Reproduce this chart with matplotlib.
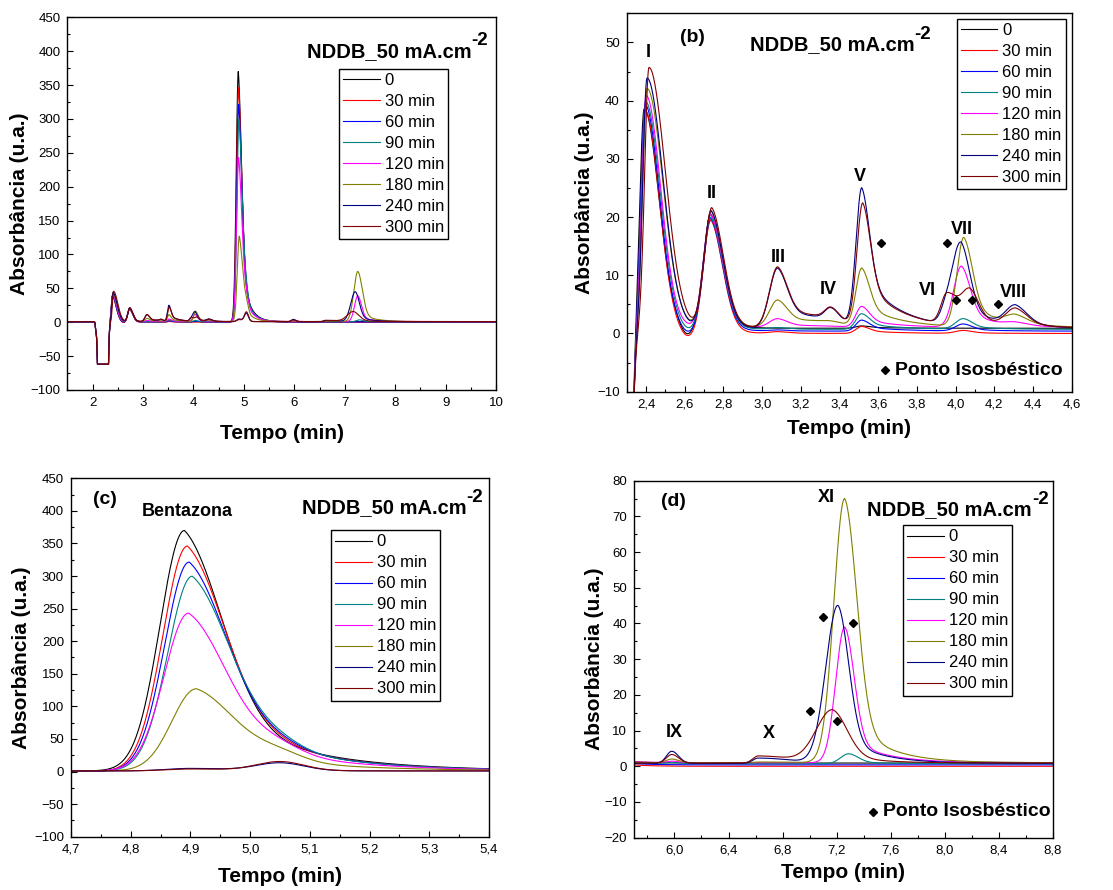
import numpy as np
import matplotlib.pyplot as plt
from matplotlib.ticker import MultipleLocator, FuncFormatter

plt.rcParams['font.family'] = ['Liberation Sans', 'DejaVu Sans']

# series (electrolysis time)
labels = ["0", "30 min", "60 min", "90 min", "120 min", "180 min", "240 min", "300 min"]
colors = ["black", "red", "blue", "#008080", "magenta", "#808000", "#000080", "#800000"]
baseline = [0.9, 0.0, 0.4, 0.7, 1.0, 1.0, 0.8, 0.9]

# peak table, values per series
# solvent front (negative, detector clips at -62)
rt_dip, h_dip, w_dip = 2.205, -3000.0, 0.04
rt_wig, h_wig, w_wig = 2.065, -8.0, 0.008
clip_low = -62.0
# trough after peak I
rt_tr = 2.61
h_tr = [-1.5, -0.9, -0.6, -0.4, 0, 0, 0, 0]
# I
rt_I = [2.39, 2.395, 2.395, 2.398, 2.40, 2.405, 2.405, 2.415]
h_I = [37.7, 38.3, 38.9, 39.1, 39.9, 41.1, 43.1, 44.8]
sr_I = [0.075, 0.073, 0.074, 0.075, 0.075, 0.082, 0.082, 0.084]
# II
rt_II = [2.735, 2.735, 2.735, 2.735, 2.735, 2.737, 2.737, 2.74]
h_II = [19.6, 19.5, 19.4, 19.3, 19.5, 20.0, 20.3, 20.7]
# III
h_III = [0, 0.3, 0.2, 0.3, 1.5, 4.6, 10.2, 10.3]
# broad hump under III-IV
h_hump = [0, 0, 0, 0, 0.2, 0.8, 1.2, 1.3]
# IV
h_IV = [0, 0, 0, 0, 0, 0.2, 2.0, 1.9]
# V
rt_V = [3.515, 3.515, 3.515, 3.515, 3.515, 3.515, 3.515, 3.52]
h_V = [0.4, 1.2, 1.9, 2.7, 3.6, 10.0, 23.8, 21.1]
# VI
h_VI = [0, 0, 0, 0, 0, 0, 2.5, 5.2]
# VII
rt_VII = [4.04, 4.04, 4.04, 4.04, 4.03, 4.042, 4.03, 4.075]
h_VII = [0, 0.5, 1.2, 1.8, 10.5, 15.3, 13.5, 6.2]
sl_VII = [0.04, 0.04, 0.04, 0.04, 0.04, 0.035, 0.045, 0.045]
# VIII
h_VIII = [0, 0, 0, 0, 0.5, 1.5, 3.4, 3.0]
# Bentazona
rt_BZ = [4.89, 4.895, 4.898, 4.903, 4.897, 4.91, 4.90, 4.90]
h_BZ = [369, 346, 321, 299, 242, 126, 4, 3]
# peak at 5.05
h_P5 = [0, 4, 8, 11, 12, 12, 12, 14]
# IX
h_IX = [0, 0, 0, 0.3, 0.4, 1.0, 3.4, 2.4]
# X
h_X = [0, 0, 0, 0, 0, 0.2, 1.5, 2.0]
# XI
rt_XI = [7.2, 7.2, 7.2, 7.29, 7.26, 7.26, 7.21, 7.17]
h_XI = [0, 0, 0, 2.8, 38, 74, 44.2, 14.8]
sl_XI = [0.08, 0.08, 0.08, 0.06, 0.066, 0.08, 0.09, 0.12]
sr_XI = [0.08, 0.08, 0.08, 0.07, 0.07, 0.09, 0.08, 0.11]

# (rt, height, sigma left, sigma right, tail fraction, tail length)
peak_table = [
    (rt_dip, h_dip, w_dip, w_dip, 0, 1),
    (rt_wig, h_wig, w_wig, w_wig, 0, 1),
    (rt_tr, h_tr, 0.035, 0.035, 0, 1),
    (rt_I, h_I, 0.022, sr_I, 0, 1),
    (rt_II, h_II, 0.038, 0.062, 0.15, 0.07),
    (3.08, h_III, 0.042, 0.05, 0.35, 0.15),
    (3.30, h_hump, 0.12, 0.12, 0, 1),
    (3.355, h_IV, 0.03, 0.04, 0, 1),
    (rt_V, h_V, 0.03, 0.04, 0.4, 0.18),
    (3.955, h_VI, 0.03, 0.05, 0, 1),
    (rt_VII, h_VII, sl_VII, 0.045, 0.3, 0.15),
    (4.31, h_VIII, 0.05, 0.06, 0.3, 0.12),
    (rt_BZ, h_BZ, 0.041, 0.065, 0.35, 0.14),
    (5.05, h_P5, 0.04, 0.04, 0, 1),
    (5.98, h_IX, 0.04, 0.05, 0, 1),
    (6.62, h_X, 0.04, 0.25, 0, 1),
    (rt_XI, h_XI, sl_XI, sr_XI, 0.2, 0.25),
]

t = np.linspace(1.5, 10.0, 17001)


def pick(p, i):
    return p[i] if isinstance(p, (list, tuple)) else p


def peak(t, rt, h, sl, sr, f, tau):
    d = t - rt
    dr = np.clip(d, 0, None)
    left = np.exp(-0.5 * (d / sl) ** 2)
    right = (1 - f) * np.exp(-0.5 * (dr / sr) ** 2) + f * np.exp(-dr / tau)
    return h * np.where(d < 0, left, right)


curves = []
for i in range(len(labels)):
    y = np.full_like(t, baseline[i])
    for pk in peak_table:
        y += peak(t, *[pick(p, i) for p in pk])
    curves.append(np.maximum(y, clip_low))

comma = FuncFormatter(lambda v, p: f"{v:.1f}".replace('.', ','))
intf = FuncFormatter(lambda v, p: f"{v:.0f}")

fig = plt.figure(figsize=(11.13, 8.90), dpi=100)
ax_a = fig.add_axes([0.0605, 0.5618, 0.3852, 0.4188])
ax_b = fig.add_axes([0.5631, 0.5599, 0.3998, 0.4251])
ax_c = fig.add_axes([0.0638, 0.0599, 0.3756, 0.4027])
ax_d = fig.add_axes([0.5696, 0.0588, 0.3762, 0.4011])

setup = [
    # ax, xlim, ylim, xmaj, xmin, ymaj, ymin, xfmt, xpad, ypad, legend anchor, title pos
    (ax_a, (1.5, 10), (-100, 450), 1, 0.5, 50, 25, intf, 11, 1, (0.888, 0.861), (0.558, 0.894)),
    (ax_b, (2.3, 4.6), (-10, 55), 0.2, 0.1, 10, 5, comma, 6, 2, (0.987, 0.985), (0.277, 0.903)),
    (ax_c, (4.7, 5.4), (-100, 450), 0.1, 0.05, 50, 25, comma, 8, 2.5, (0.883, 0.855), (0.552, 0.902)),
    (ax_d, (5.7, 8.8), (-20, 80), 0.4, 0.2, 10, 5, comma, 4.5, 0, (0.903, 0.875), (0.557, 0.904)),
]

for ax, xl, yl, xma, xmi, yma, ymi, xf, xp, yp, lanc, tpos in setup:
    for y, lab, c in zip(curves, labels, colors):
        ax.plot(t, y, color=c, lw=0.8, label=lab)
    ax.set_xlim(*xl)
    ax.set_ylim(*yl)
    ax.xaxis.set_major_locator(MultipleLocator(xma))
    ax.xaxis.set_minor_locator(MultipleLocator(xmi))
    ax.yaxis.set_major_locator(MultipleLocator(yma))
    ax.yaxis.set_minor_locator(MultipleLocator(ymi))
    ax.xaxis.set_major_formatter(xf)
    ax.tick_params(which='both', direction='in', top=False, right=False,
                   labelsize=9.5, pad=5)
    ax.tick_params(which='major', length=4.5, width=0.8)
    ax.tick_params(which='minor', length=2.5, width=0.8)
    for s in ax.spines.values():
        s.set_linewidth(1.0)
    ax.set_xlabel("Tempo (min)", fontsize=15, fontweight='bold', labelpad=xp)
    ax.set_ylabel("Absorbância (u.a.)", fontsize=15, fontweight='bold', labelpad=yp)
    leg = ax.legend(loc='upper right', bbox_to_anchor=lanc, fontsize=12,
                    frameon=True, fancybox=False, framealpha=1, edgecolor='black',
                    borderpad=0.25, labelspacing=0.36, handlelength=2.2,
                    handletextpad=0.3, borderaxespad=0)
    leg.get_frame().set_linewidth(1.0)
    tt = ax.text(tpos[0], tpos[1], "NDDB_50 mA.cm", transform=ax.transAxes,
                 fontsize=14.5, fontweight='bold', ha='left', va='baseline')
    ax.annotate("-2", xy=(1.0, 0.6), xycoords=tt, fontsize=13.5,
                fontweight='bold', ha='left', va='bottom')

# panel labels and peak names
bold = dict(fontweight='bold', ha='center', va='center')
ax_b.text(0.148, 0.937, "(b)", transform=ax_b.transAxes, fontsize=14, **bold)
ax_c.text(0.081, 0.941, "(c)", transform=ax_c.transAxes, fontsize=14, **bold)
ax_d.text(0.094, 0.943, "(d)", transform=ax_d.transAxes, fontsize=14, **bold)
ax_c.text(0.278, 0.907, "Bentazona", transform=ax_c.transAxes, fontsize=13, **bold)

names_b = ["I", "II", "III", "IV", "V", "VI", "VII", "VIII"]
names_b_x = [2.41, 2.74, 3.085, 3.343, 3.507, 3.852, 4.033, 4.297]
names_b_y = [48.3, 24.1, 13.1, 7.5, 26.9, 7.4, 17.8, 7.1]
for n, x, y in zip(names_b, names_b_x, names_b_y):
    ax_b.text(x, y, n, fontsize=13, **bold)

names_d = ["IX", "X", "XI"]
names_d_x = [6.0, 6.696, 7.128]
names_d_y = [9.5, 9.3, 75.4]
for n, x, y in zip(names_d, names_d_x, names_d_y):
    ax_d.text(x, y, n, fontsize=13, **bold)

# isosbestic points
iso_b_x = [3.614, 3.955, 4.002, 4.084, 4.219]
iso_b_y = [15.6, 15.6, 5.7, 5.8, 5.1]
iso_d_x = [7.103, 7.318, 7.004, 7.202]
iso_d_y = [41.9, 40.2, 15.4, 12.6]
ax_b.plot(iso_b_x, iso_b_y, 'D', color='black', ms=4.5, ls='none')
ax_d.plot(iso_d_x, iso_d_y, 'D', color='black', ms=4.5, ls='none')

for ax, (mx, my) in [(ax_b, (0.58, 0.057)), (ax_d, (0.572, 0.073))]:
    ax.plot([mx], [my], 'D', color='black', ms=4.5, transform=ax.transAxes)
    ax.text(mx + 0.023, my, "Ponto Isosbéstico", transform=ax.transAxes,
            fontsize=14, fontweight='bold', ha='left', va='center')

fig.savefig("out.png", dpi=100)
